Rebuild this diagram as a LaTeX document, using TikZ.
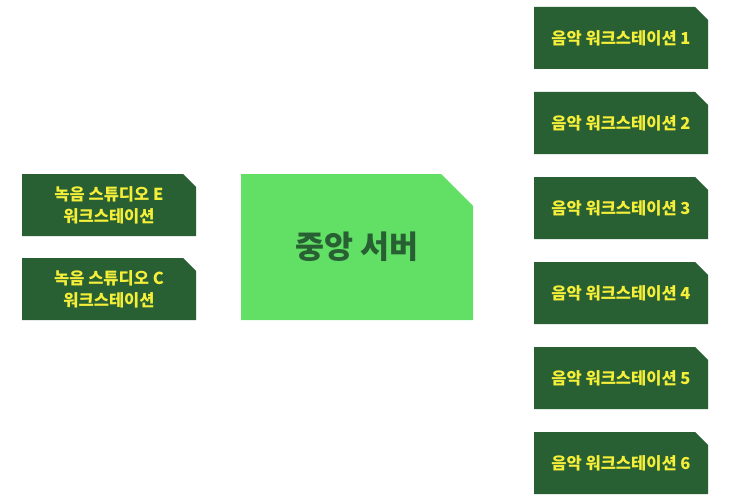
\documentclass[tikz,border=0pt]{standalone}
\usepackage{fontspec}
\newfontfamily\kr{Noto Sans CJK KR}
\usetikzlibrary{shapes.misc, positioning}
\definecolor{darkgreen}{HTML}{285F33}
\definecolor{lightgreen}{HTML}{62E065}
\definecolor{textyellow}{HTML}{F5EF3A}
\tikzset{
    box/.style={chamfered rectangle, chamfered rectangle corners=north east, inner sep=0pt, align=center}, % boxes with one cut corner
    station/.style={box, fill=darkgreen, text=textyellow, minimum width=174pt, minimum height=62pt,
        chamfered rectangle xsep=7pt, chamfered rectangle ysep=6pt, font=\kr\bfseries\fontsize{16.5}{22}\selectfont},
    server/.style={box, fill=lightgreen, text=darkgreen, minimum width=232pt, minimum height=146pt,
        chamfered rectangle xsep=18pt, chamfered rectangle ysep=17pt, font=\kr\bfseries\fontsize{31.5}{36}\selectfont},
    node distance=22.6pt, % gap between the workstations on the right
}
\begin{document}
\begin{tikzpicture}[x=1pt, y=-1pt]
    \useasboundingbox (0,0) rectangle (730,500);
    \node[server] (srv) at (357,247) {중앙 서버};
    \node[station] (recE) at (109,205) {녹음 스튜디오 E\\워크스테이션};
    \node[station] (recC) at (109,289) {녹음 스튜디오 C\\워크스테이션};
    \node[station] (ws1) at (621,38) {음악 워크스테이션 1};
    \node[station, below=of ws1] (ws2) {음악 워크스테이션 2};
    \node[station, below=of ws2] (ws3) {음악 워크스테이션 3};
    \node[station, below=of ws3] (ws4) {음악 워크스테이션 4};
    \node[station, below=of ws4] (ws5) {음악 워크스테이션 5};
    \node[station, below=of ws5] (ws6) {음악 워크스테이션 6};
\end{tikzpicture}
\end{document}
